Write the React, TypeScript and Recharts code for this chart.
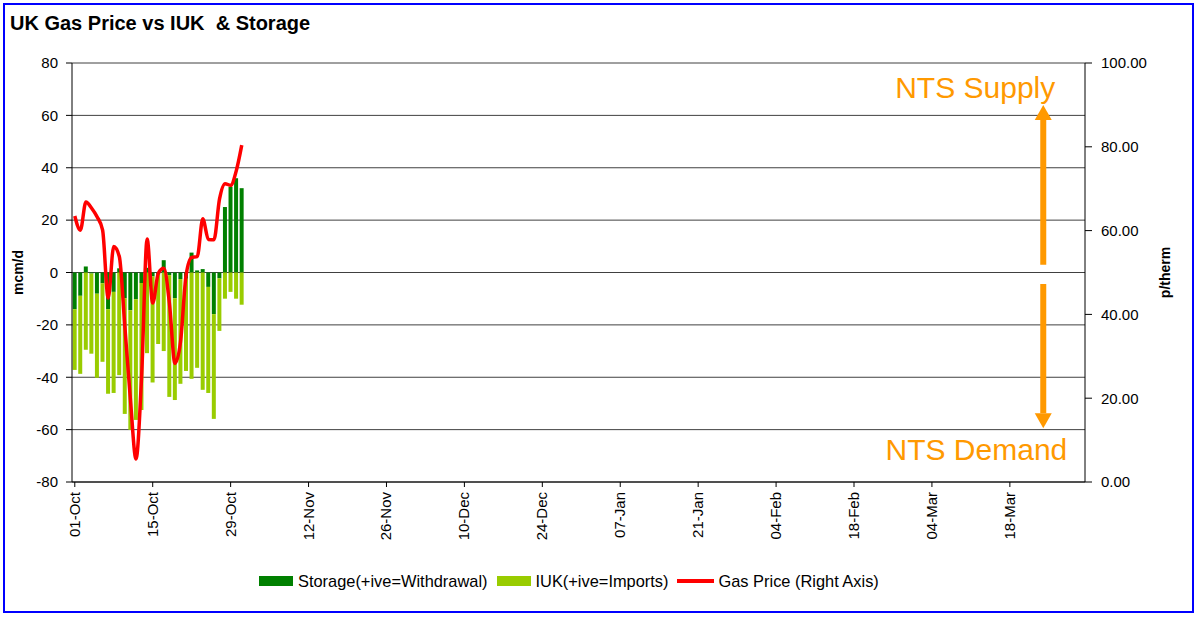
import React from 'react'
import {
  Bar,
  CartesianGrid,
  ComposedChart,
  Legend,
  Line,
  ReferenceLine,
  XAxis,
  YAxis,
} from 'recharts'

// one category per gas day, 01-Oct through 31-Mar
const MONTHS: [string, number][] = [
  ['Oct', 31],
  ['Nov', 30],
  ['Dec', 31],
  ['Jan', 31],
  ['Feb', 28],
  ['Mar', 31],
]
const DAYS = MONTHS.flatMap(([m, n]) =>
  Array.from({ length: n }, (_, i) => `${String(i + 1).padStart(2, '0')}-${m}`)
)

// mcm/d, +ive = withdrawal from storage
const STORAGE = [
  -14.0, -8.9, 2.3, -0.4, -8.1, -4.1, -14.0, -7.4, 1.6, -9.8, -14.4, -10.2, -4.0, 1.8, -1.5, -0.8,
  4.7, -1.0, -9.8, -2.5, -2.4, 7.6, 0.8, 1.3, -5.5, -15.9, -2.2, 25.0, 32.7, 36.0, 32.2,
]
// mcm/d, +ive = imports through the interconnector
const IUK = [
  -23.2, -29.8, -29.5, -30.6, -32.1, -30.0, -32.3, -38.6, -39.2, -44.2, -45.7, -46.1, -48.5, -30.8,
  -40.5, -26.5, -30.0, -46.5, -38.9, -40.0, -35.2, -40.6, -36.4, -44.8, -40.5, -40.0, -20.1, -10.0,
  -7.4, -10.0, -12.3,
]
// p/therm
const PRICE = [
  63.5, 60.1, 66.8, 65.4, 63.3, 60.1, 43.9, 56.2, 53.8, 37.0, 19.6, 5.5, 25.0, 58.0, 42.7, 49.8,
  51.0, 42.7, 28.3, 33.5, 49.4, 53.6, 53.8, 62.8, 57.9, 57.8, 67.5, 71.2, 70.8, 74.2, 80.4,
]

const LEFT_TICKS = [-80, -60, -40, -20, 0, 20, 40, 60, 80]
const RIGHT_TICKS = [0, 20, 40, 60, 80, 100]
const SERIES = ['Storage(+ive=Withdrawal)', 'IUK(+ive=Imports)', 'Gas Price (Right Axis)']

const data = DAYS.map((day, i) => ({
  day,
  storage: STORAGE[i],
  iuk: IUK[i],
  price: PRICE[i],
}))

const FONT = '"Liberation Sans", Arial, Helvetica, sans-serif'
const ORANGE = '#FF9900'

function DateTick({ x, y, payload }: any) {
  const bx = x + 5
  return (
    <text
      x={bx}
      y={y}
      transform={`rotate(-90 ${bx} ${y})`}
      textAnchor="end"
      fontSize={15}
      fontFamily={FONT}
      fill="#000"
    >
      {payload.value}
    </text>
  )
}

// the two NTS arrows, with their caption drawn next to the tip
function arrow(label: string, dx: number, dy: number) {
  return (p: any) => {
    const { x1, y1, x2, y2 } = p
    const dir = y2 < y1 ? -1 : 1
    const baseY = y2 - dir * 15
    return (
      <g>
        <line x1={x1} y1={y1} x2={x2} y2={baseY} stroke={ORANGE} strokeWidth={6} />
        <polygon points={`${x2 - 8.5},${baseY} ${x2 + 8.5},${baseY} ${x2},${y2}`} fill={ORANGE} />
        <text x={x2 + dx} y={y2 + dy} textAnchor="end" fontSize={30} fontFamily={FONT} fill={ORANGE}>
          {label}
        </text>
      </g>
    )
  }
}

function axisTitle(text: string, dx: number) {
  return ({ viewBox }: any) => {
    const cx = viewBox.x + dx
    const cy = viewBox.y + viewBox.height / 2
    return (
      <text
        x={cx}
        y={cy}
        transform={`rotate(-90 ${cx} ${cy})`}
        textAnchor="middle"
        fontSize={14}
        fontWeight="bold"
        fontFamily={FONT}
        fill="#000"
      >
        {text}
      </text>
    )
  }
}

function LegendBox({ payload }: any) {
  // excel keeps series order; recharts sorts by name, so put it back
  const items = [...(payload || [])].sort((a: any, b: any) => SERIES.indexOf(a.value) - SERIES.indexOf(b.value))
  return (
    <div style={{ display: 'flex', alignItems: 'center', fontFamily: FONT, fontSize: 16.4, lineHeight: '18px' }}>
      {items.map((e: any) => (
        <div key={e.value} style={{ display: 'flex', alignItems: 'center', marginRight: 9 }}>
          {e.type === 'line' ? (
            <div style={{ width: 37, height: 4, background: e.color, marginRight: 4 }} />
          ) : (
            <div style={{ width: 34, height: 10, background: e.color, marginRight: 5 }} />
          )}
          <span>{e.value}</span>
        </div>
      ))}
    </div>
  )
}

export default function App() {
  return (
    <div style={{ position: 'absolute', left: 0, top: 0, width: 1198, height: 617, background: '#fff' }}>
      <div
        style={{
          position: 'absolute',
          left: 3,
          top: 3,
          width: 1191,
          height: 610,
          border: '2px solid #0000FF',
          boxSizing: 'border-box',
        }}
      />
      <div
        style={{
          position: 'absolute',
          left: 10,
          top: 13,
          fontFamily: FONT,
          fontWeight: 'bold',
          fontSize: 20,
          lineHeight: '20px',
          whiteSpace: 'pre',
        }}
      >
        {'UK Gas Price vs IUK  & Storage'}
      </div>
      <ComposedChart
        width={1198}
        height={617}
        data={data}
        margin={{ top: 63, right: 20, bottom: 65, left: 10 }}
        barCategoryGap="12%"
        stackOffset="sign"
        style={{ position: 'absolute', left: 0, top: 0 }}
      >
        <CartesianGrid yAxisId="left" vertical={false} stroke="#404040" />
        <XAxis
          dataKey="day"
          interval={13}
          tick={<DateTick />}
          tickSize={5}
          tickMargin={5}
          height={70}
          stroke="#000"
        />
        <YAxis
          yAxisId="left"
          domain={[-80, 80]}
          ticks={LEFT_TICKS}
          interval={0}
          width={62}
          tickSize={6}
          tickMargin={8}
          stroke="#000"
          tick={{ fill: '#000', fontSize: 15, fontFamily: FONT }}
          label={{ content: axisTitle('mcm/d', 13) }}
        />
        <YAxis
          yAxisId="right"
          orientation="right"
          domain={[0, 100]}
          ticks={RIGHT_TICKS}
          interval={0}
          width={93}
          tickSize={7}
          tickMargin={9}
          stroke="#000"
          tickFormatter={(v: number) => v.toFixed(2)}
          tick={{ fill: '#000', fontSize: 15, fontFamily: FONT }}
          label={{ content: axisTitle('p/therm', 85) }}
        />
        <Bar
          yAxisId="left"
          dataKey="storage"
          name={SERIES[0]}
          stackId="flow"
          fill="#008000"
          isAnimationActive={false}
        />
        <Bar
          yAxisId="left"
          dataKey="iuk"
          name={SERIES[1]}
          stackId="flow"
          fill="#99CC00"
          isAnimationActive={false}
        />
        <Line
          yAxisId="right"
          dataKey="price"
          name={SERIES[2]}
          type="monotone"
          stroke="#FF0000"
          strokeWidth={3.5}
          dot={false}
          activeDot={false}
          legendType="line"
          isAnimationActive={false}
        />
        <ReferenceLine
          yAxisId="left"
          segment={[
            { x: '24-Mar', y: 3 },
            { x: '24-Mar', y: 64 },
          ]}
          ifOverflow="visible"
          shape={arrow('NTS Supply', 12, -7)}
        />
        <ReferenceLine
          yAxisId="left"
          segment={[
            { x: '24-Mar', y: -4.4 },
            { x: '24-Mar', y: -59.5 },
          ]}
          ifOverflow="visible"
          shape={arrow('NTS Demand', 24, 32)}
        />
        <Legend
          verticalAlign="middle"
          align="center"
          content={<LegendBox />}
          wrapperStyle={{ left: 259, top: 572, width: 'auto' }}
        />
      </ComposedChart>
    </div>
  )
}
